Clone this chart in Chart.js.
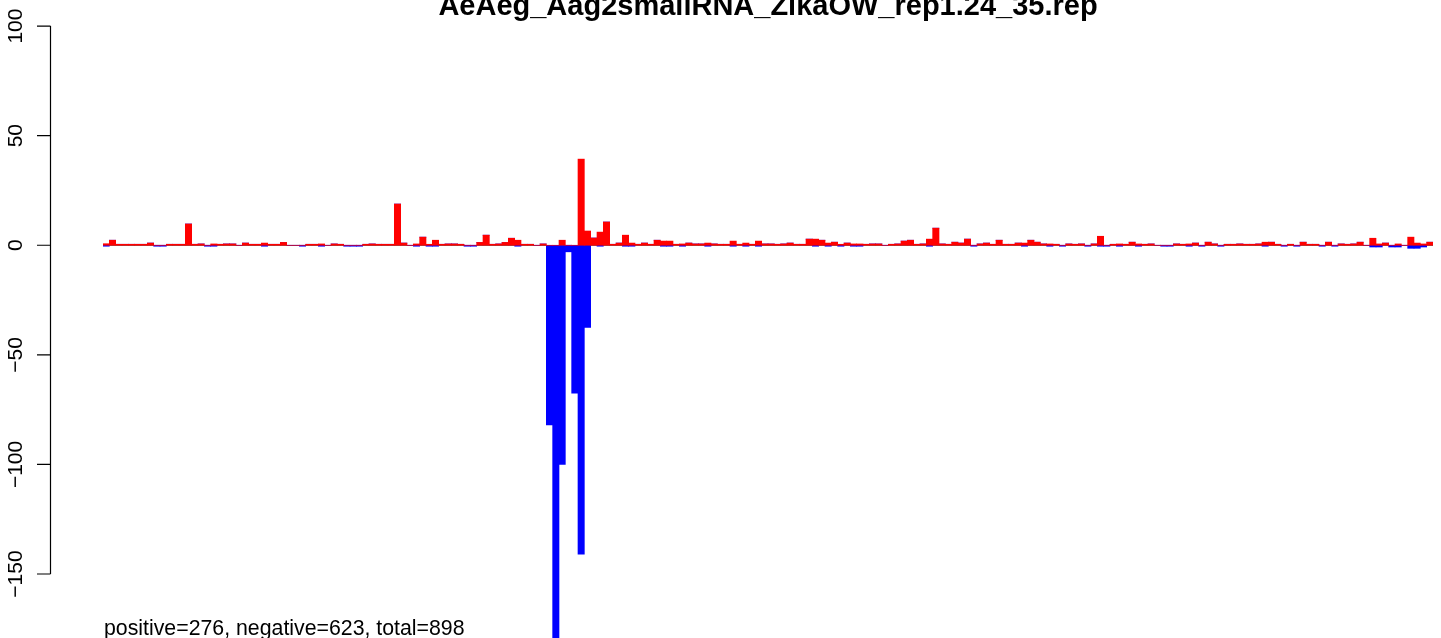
<!DOCTYPE html>
<html>
<head>
<meta charset="utf-8">
<script src="https://cdn.jsdelivr.net/npm/chart.js@4/dist/chart.umd.min.js"></script>
<style>
  html, body { margin: 0; padding: 0; background: #fff; overflow: hidden; }
  #wrap { width: 1441px; height: 638px; position: relative; }
</style>
</head>
<body>
<div id="wrap"><canvas id="chart" width="1441" height="638"></canvas></div>
<script>
// ─── Data ─────────────────────────────────────────────────────────
const TITLE   = 'AeAeg_Aag2smallRNA_ZikaOW_rep1.24_35.rep';
const NOTE    = 'positive=276, negative=623, total=898';
const Y_TICKS = [100, 50, 0, -50, -100, -150];

// positive (red) counts per bin
const POS = [
  0.7, 2.3, 0.45, 0.45, 0.45, 0.45, 0.45, 1.0, 0, 0,
  0.45, 0.45, 0.45, 9.7, 0.45, 0.6, 0, 0.6, 0.45, 0.6,
  0.6, 0, 1.0, 0.45, 0.45, 1.0, 0.45, 0.45, 1.3, 0,
  0, 0, 0.45, 0.45, 0.6, 0, 0.6, 0.45, 0, 0,
  0, 0.45, 0.6, 0.45, 0.45, 0.45, 18.8, 1.0, 0, 0.6,
  3.7, 0.45, 2.3, 0.45, 0.6, 0.6, 0.45, 0, 0, 1.3,
  4.6, 0.45, 0.6, 1.3, 3.2, 2.3, 0.45, 0.45, 0, 0.6,
  0, 0, 2.3, 0, 0, 39.3, 6.5, 3.3, 6.0, 10.6,
  0.45, 1.0, 4.6, 1.0, 0.45, 1.0, 0.45, 2.3, 1.9, 1.9,
  0.45, 0.6, 1.0, 0.6, 0.6, 1.0, 0.6, 0.45, 0.45, 1.9,
  0.45, 1.0, 0.45, 1.9, 0.6, 0.6, 0.45, 0.6, 1.0, 0.45,
  0.45, 2.8, 2.8, 2.3, 1.0, 1.4, 0.45, 1.0, 0.6, 0.6,
  0.45, 0.6, 0.6, 0, 0.45, 0.6, 1.9, 2.3, 0.45, 0.6,
  2.8, 7.8, 0.6, 0.45, 1.4, 1.0, 2.8, 0, 0.6, 1.0,
  0.45, 2.3, 0.45, 0.45, 1.0, 1.0, 2.3, 1.4, 0.6, 0.6,
  0.45, 0, 0.6, 0.45, 0.6, 0, 0.6, 4.1, 0, 0.45,
  0.6, 0.45, 1.4, 0.6, 0.45, 0.6, 0, 0, 0, 0.6,
  0.45, 0.6, 1.0, 0, 1.4, 0.6, 0, 0.45, 0.45, 0.6,
  0.45, 0.45, 0.6, 1.4, 1.4, 0.45, 0, 0.45, 0, 1.4,
  0.45, 0.45, 0, 1.4, 0, 0.6, 0.45, 0.6, 1.4, 0,
  3.2, 0.6, 1.0, 0, 0.6, 0, 3.7, 1.0, 0.6, 1.4
];

// negative (blue) counts per bin
const NEG = [
  -0.45, 0, 0, 0, 0, 0, 0, 0, -0.45, -0.45,
  0, 0, 0, 0, 0, 0, -0.45, -0.45, 0, 0,
  0, 0, 0, 0, 0, -0.45, 0, 0, 0, 0,
  0, -0.45, 0, 0, -0.45, 0, 0, 0, -0.45, -0.45,
  -0.45, 0, 0, 0, 0, 0, 0, 0, 0, -0.45,
  0, -0.45, -0.45, 0, 0, 0, 0, -0.45, -0.45, 0,
  0, 0, 0, 0, 0, -0.45, 0, 0, 0, 0,
  -82, -185, -100, -3, -67.5, -141, -37.5, 0, -0.45, 0,
  0, 0, -0.45, -0.45, 0, 0, 0, 0, -0.45, -0.45,
  0, -0.45, 0, 0, 0, -0.45, 0, 0, 0, -0.45,
  0, -0.45, 0, -0.45, 0, 0, 0, 0, 0, 0,
  0, 0, -0.45, 0, -0.45, 0, -0.45, 0, -0.45, -0.45,
  0, 0, 0, 0, 0, 0, 0, 0, 0, 0,
  -0.45, 0, 0, 0, 0, 0, 0, -0.45, 0, 0,
  0, 0, 0, 0, 0, -0.45, 0, 0, 0, -0.45,
  0, -0.45, 0, 0, 0, -0.45, 0, -0.45, -0.45, 0,
  -0.45, 0, 0, -0.45, 0, 0, 0, -0.45, -0.45, 0,
  0, -0.45, 0, -0.45, 0, 0, -0.45, 0, 0, 0,
  0, 0, 0, -0.45, 0, 0, -0.45, 0, -0.45, 0,
  0, 0, -0.45, 0, -0.45, 0, 0, 0, 0, 0,
  -0.8, -0.8, 0, -0.8, -0.8, 0, -1.4, -1.4, -0.8, 0
];

const BINS = POS.map((_, i) => i + 1);

// ─── R-style frame: baseline, left axis, title, note ──────────────
const rFrame = {
  id: 'rFrame',
  beforeDatasetsDraw(chart) {
    const { ctx, chartArea: a, scales: { y } } = chart;
    const y0 = Math.round(y.getPixelForValue(0)) + 0.5;
    ctx.save();
    ctx.strokeStyle = '#6b6b6b';
    ctx.lineWidth = 1;
    ctx.beginPath(); ctx.moveTo(a.left, y0); ctx.lineTo(a.right, y0); ctx.stroke();
    ctx.restore();
  },
  afterDraw(chart) {
    const { ctx, scales: { y } } = chart;
    const ax = 50.5;
    const top = y.getPixelForValue(Y_TICKS[0]);
    const bot = y.getPixelForValue(Y_TICKS[Y_TICKS.length - 1]);
    ctx.save();
    ctx.strokeStyle = '#000';
    ctx.lineWidth = 1.2;
    ctx.beginPath();
    ctx.moveTo(ax, top); ctx.lineTo(ax, bot);
    Y_TICKS.forEach(v => {
      const p = y.getPixelForValue(v);
      ctx.moveTo(ax, p); ctx.lineTo(37, p);
    });
    ctx.stroke();

    ctx.fillStyle = '#000';
    ctx.font = '21px "Liberation Sans", Arial, sans-serif';
    ctx.textAlign = 'center';
    ctx.textBaseline = 'alphabetic';
    Y_TICKS.forEach(v => {
      const p = y.getPixelForValue(v);
      ctx.save();
      ctx.translate(22, p);
      ctx.rotate(-Math.PI / 2);
      ctx.fillText(String(v).replace('-', '\u2212'), 0, 0);
      ctx.restore();
    });

    ctx.font = 'bold 29px "Liberation Sans", Arial, sans-serif';
    ctx.fillText(TITLE, 768, 15);

    ctx.font = '21.3px "Liberation Sans", Arial, sans-serif';
    ctx.textAlign = 'left';
    ctx.fillText(NOTE, 104, 635);
    ctx.restore();
  }
};

new Chart(document.getElementById('chart'), {
  type: 'bar',
  data: {
    labels: BINS,
    datasets: [
      { label: 'positive', data: POS, backgroundColor: '#ff0000', borderWidth: 0, barPercentage: 1, categoryPercentage: 1 },
      { label: 'negative', data: NEG, backgroundColor: '#0000ff', borderWidth: 0, barPercentage: 1, categoryPercentage: 1 },
    ],
  },
  options: {
    responsive: false, animation: false, devicePixelRatio: 1,
    layout: { padding: { left: 103, right: 8, top: 0, bottom: 0 } },
    plugins: { legend: { display: false }, tooltip: { enabled: false } },
    scales: {
      x: { stacked: true, display: false, grid: { display: false } },
      y: { stacked: true, display: false, min: -179.2, max: 111.9, grid: { display: false } },
    },
  },
  plugins: [rFrame],
});
</script>
</body>
</html>
